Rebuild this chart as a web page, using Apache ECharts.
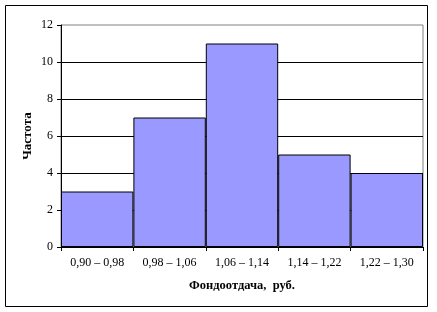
<!DOCTYPE html>
<html><head><meta charset="utf-8">
<script src="https://cdn.jsdelivr.net/npm/echarts@6/dist/echarts.min.js"></script>
<style>html,body{margin:0;padding:0;background:#fff}#c{width:437px;height:312px}</style>
</head><body><div id="c"></div>
<script>
const categories = ['0,90 – 0,98', '0,98 – 1,06', '1,06 – 1,14', '1,14 – 1,22', '1,22 – 1,30'];
const frequencies = [3, 7, 11, 5, 4];
const xTitle = 'Фондоотдача,  руб.';
const yTitle = 'Частота';

const font = 'Liberation Serif, Times New Roman, serif';
const chart = echarts.init(document.getElementById('c'), null, {renderer: 'canvas'});
chart.setOption({
  animation: false,
  backgroundColor: '#fff',
  graphic: [{type: 'rect', shape: {x: 5.5, y: 5.5, width: 422, height: 301}, style: {fill: 'none', stroke: '#000', lineWidth: 1}}],
  grid: {left: 61, top: 25, right: 14, bottom: 65, show: true, borderColor: '#808080', borderWidth: 1, backgroundColor: 'transparent'},
  xAxis: {
    type: 'category', data: categories,
    name: xTitle, nameLocation: 'middle', nameGap: 32, nameMoveOverlap: false,
    nameTextStyle: {fontFamily: font, fontWeight: 'bold', fontSize: 12.5, color: '#000'},
    axisLine: {lineStyle: {color: '#000', width: 1}},
    axisTick: {show: true, alignWithLabel: false, length: 4, lineStyle: {color: '#000'}},
    axisLabel: {fontFamily: font, fontSize: 12, color: '#000', margin: 10, interval: 0}
  },
  yAxis: {
    type: 'value', min: 0, max: 12, interval: 2,
    name: yTitle, nameLocation: 'middle', nameGap: 27, nameRotate: 90, nameMoveOverlap: false,
    nameTextStyle: {fontFamily: font, fontWeight: 'bold', fontSize: 13, color: '#000'},
    axisLine: {show: true, lineStyle: {color: '#000', width: 1}},
    axisTick: {show: true, length: 4, lineStyle: {color: '#000'}},
    axisLabel: {fontFamily: font, fontSize: 12, color: '#000', margin: 8},
    splitLine: {show: true, showMaxLine: false, lineStyle: {color: '#000', width: 1}}
  },
  series: [{
    type: 'bar', data: frequencies, barCategoryGap: '0%',
    itemStyle: {color: '#9999ff', borderColor: '#000', borderWidth: 1}
  }]
});
</script></body></html>
